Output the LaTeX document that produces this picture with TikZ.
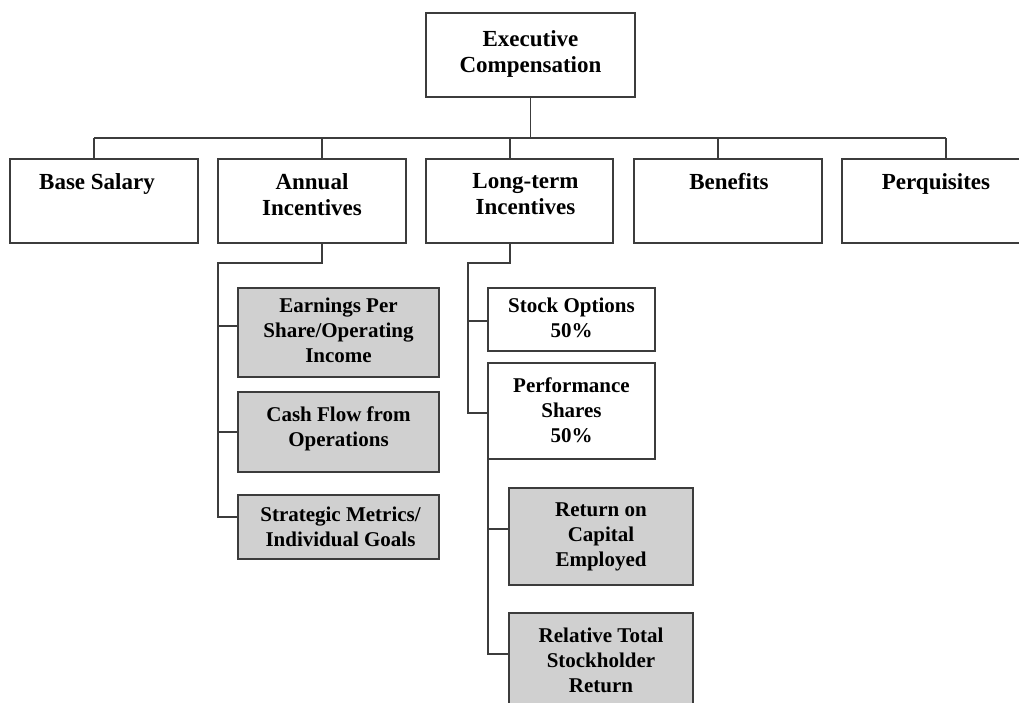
\documentclass[tikz,border=0pt]{standalone}
\usepackage{fontspec}
\setmainfont{Liberation Serif}
\definecolor{linec}{HTML}{3C3C3C}
\definecolor{fillg}{HTML}{D0D0D0}
\begin{document}
\begin{tikzpicture}[x=1pt,y=-1pt,
  box/.style={draw=linec, line width=1.4pt, inner sep=0pt, outer sep=0pt, fill=white},
  gbox/.style={box, fill=fillg},
  conn/.style={draw=linec, line width=1.4pt},
  big/.style={anchor=north, inner sep=0pt, align=center, font=\fontsize{23}{26.5}\selectfont\bfseries},
  small/.style={anchor=north, inner sep=0pt, align=center, font=\fontsize{21}{25}\selectfont\bfseries}]
\clip (0,0) rectangle (1019,702);
\fill[white] (0,0) rectangle (1019,702);

% top
\node[box, minimum width=209pt, minimum height=84pt] (exec) at (530.5,55) {};
\node[big] (execT) at ([yshift=-17pt]exec.north) {Executive\\Compensation};

% level 1
\node[box, minimum width=188pt, minimum height=84pt] (base) at (104,201) {};
\node[box, minimum width=188pt, minimum height=84pt] (annual) at (312,201) {};
\node[box, minimum width=187pt, minimum height=84pt] (lt) at (519.5,201) {};
\node[box, minimum width=188pt, minimum height=84pt] (ben) at (728,201) {};
\node[box, minimum width=188pt, minimum height=84pt] (perq) at (936,201) {};
\node[big] (baseT) at ([xshift=-7pt,yshift=-14pt]base.north) {Base Salary};
\node[big] (annualT) at ([yshift=-14pt]annual.north) {Annual\\Incentives};
\node[big] (ltT) at ([xshift=6pt,yshift=-14pt]lt.north) {Long-term\\Incentives};
\node[big] (benT) at ([xshift=1pt,yshift=-14pt]ben.north) {Benefits};
\node[big] (perqT) at ([yshift=-14pt]perq.north) {Perquisites};

% annual children
\node[gbox, minimum width=201pt, minimum height=89pt] (eps) at (338.5,332.5) {};
\node[gbox, minimum width=201pt, minimum height=80pt] (cash) at (338.5,432) {};
\node[gbox, minimum width=201pt, minimum height=64pt] (strat) at (338.5,527) {};
\node[small] (epsT) at ([yshift=-10pt]eps.north) {Earnings Per\\Share/Operating\\Income};
\node[small] (cashT) at ([yshift=-15pt]cash.north) {Cash Flow from\\Operations};
\node[small] (stratT) at ([xshift=2pt,yshift=-12pt]strat.north) {Strategic Metrics/\\Individual Goals};

% long-term children
\node[box, minimum width=167pt, minimum height=63pt] (stock) at (571.5,319.5) {};
\node[box, minimum width=167pt, minimum height=96pt] (perf) at (571.5,411) {};
\node[small] (stockT) at ([yshift=-10pt]stock.north) {Stock Options\\50\%};
\node[small] (perfT) at ([yshift=-15pt]perf.north) {Performance\\Shares\\50\%};

% performance children
\node[gbox, minimum width=184pt, minimum height=97pt] (roce) at (601,536.5) {};
\node[gbox, minimum width=184pt, minimum height=97pt] (rtsr) at (601,661.5) {};
\node[small] (roceT) at ([yshift=-15pt]roce.north) {Return on\\Capital\\Employed};
\node[small] (rtsrT) at ([yshift=-15pt]rtsr.north) {Relative Total\\Stockholder\\Return};

% top connectors
\coordinate (hub) at (530.5,138);
\coordinate (dB) at (94,138);
\coordinate (dA) at (322,138);
\coordinate (dL) at (510,138);
\coordinate (dN) at (718,138);
\coordinate (dP) at (946,138);
\draw[conn] (exec.south) -- (hub);
\draw[conn] (dB) -- (dP);
\draw[conn] (dB) -- (dB |- base.north);
\draw[conn] (dA) -- (dA |- annual.north);
\draw[conn] (dL) -- (dL |- lt.north);
\draw[conn] (dN) -- (dN |- ben.north);
\draw[conn] (dP) -- (dP |- perq.north);

% annual tree
\coordinate (aJ) at (322,263);
\coordinate (aC) at (218,263);
\coordinate (a1) at (218,326);
\coordinate (a2) at (218,432);
\coordinate (a3) at (218,517);
\draw[conn] (aJ |- annual.south) -- (aJ) -- (aC) -- (a3) -- (a3 -| strat.west);
\draw[conn] (a1) -- (a1 -| eps.west);
\draw[conn] (a2) -- (a2 -| cash.west);

% long-term tree
\coordinate (lJ) at (510,263);
\coordinate (lC) at (468,263);
\coordinate (l1) at (468,321);
\coordinate (l2) at (468,413);
\draw[conn] (lJ |- lt.south) -- (lJ) -- (lC) -- (l2) -- (l2 -| perf.west);
\draw[conn] (l1) -- (l1 -| stock.west);

% performance tree
\coordinate (p1) at (488,529);
\coordinate (p2) at (488,654);
\draw[conn] (perf.south west) -- (p2) -- (p2 -| rtsr.west);
\draw[conn] (p1) -- (p1 -| roce.west);
\end{tikzpicture}
\end{document}
